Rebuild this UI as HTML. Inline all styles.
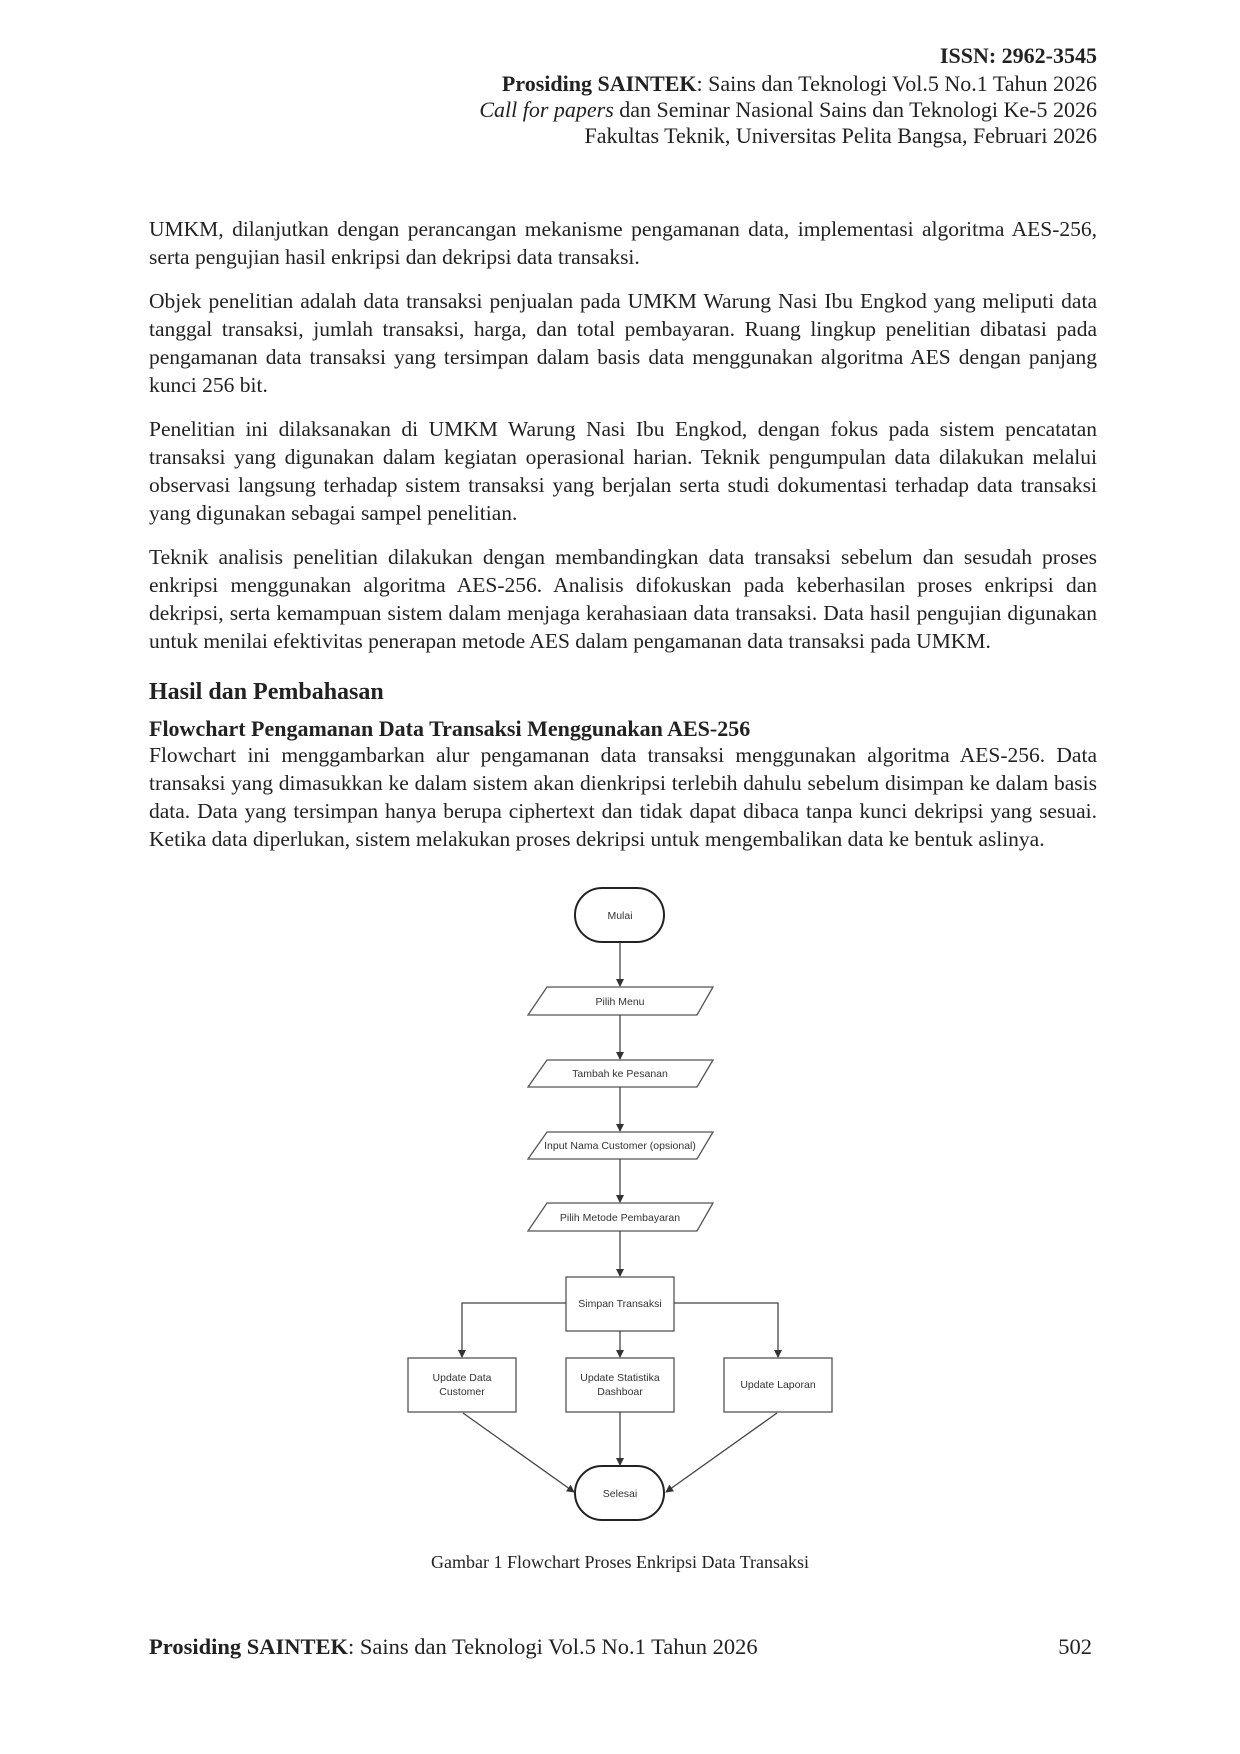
<!DOCTYPE html>
<html><head><meta charset="utf-8"><style>
body{margin:0;background:#fff;}
#p{position:relative;width:1240px;height:1754px;background:#fff;font-family:"Liberation Serif",serif;color:#222;overflow:hidden}
.r{position:absolute;right:143px;font-size:22px;text-align:right;white-space:nowrap;line-height:26px}
.l{position:absolute;left:149px;width:948px;font-size:21.5px;line-height:24px;white-space:nowrap;text-align:justify;text-align-last:justify}
.e{text-align-last:left}
.h{position:absolute;left:149px;font-weight:bold;white-space:nowrap}
svg text{font-family:"Liberation Sans",sans-serif;font-size:10.5px;fill:#333;text-anchor:middle}
</style></head><body><div id="p">
<div class="r" style="top:43px;font-weight:bold">ISSN: 2962-3545</div>
<div class="r" style="top:71px"><b>Prosiding SAINTEK</b>: Sains dan Teknologi Vol.5 No.1 Tahun 2026</div>
<div class="r" style="top:97px"><i>Call for papers</i> dan Seminar Nasional Sains dan Teknologi Ke-5 2026</div>
<div class="r" style="top:123px">Fakultas Teknik, Universitas Pelita Bangsa, Februari 2026</div>

<div class="l" style="top:217px">UMKM, dilanjutkan dengan perancangan mekanisme pengamanan data, implementasi algoritma AES-256,</div>
<div class="l e" style="top:245px">serta pengujian hasil enkripsi dan dekripsi data transaksi.</div>

<div class="l" style="top:289px">Objek penelitian adalah data transaksi penjualan pada UMKM Warung Nasi Ibu Engkod yang meliputi data</div>
<div class="l" style="top:317px">tanggal transaksi, jumlah transaksi, harga, dan total pembayaran. Ruang lingkup penelitian dibatasi pada</div>
<div class="l" style="top:345px">pengamanan data transaksi yang tersimpan dalam basis data menggunakan algoritma AES dengan panjang</div>
<div class="l e" style="top:373px">kunci 256 bit.</div>

<div class="l" style="top:417px">Penelitian ini dilaksanakan di UMKM Warung Nasi Ibu Engkod, dengan fokus pada sistem pencatatan</div>
<div class="l" style="top:445px">transaksi yang digunakan dalam kegiatan operasional harian. Teknik pengumpulan data dilakukan melalui</div>
<div class="l" style="top:473px">observasi langsung terhadap sistem transaksi yang berjalan serta studi dokumentasi terhadap data transaksi</div>
<div class="l e" style="top:501px">yang digunakan sebagai sampel penelitian.</div>

<div class="l" style="top:545px">Teknik analisis penelitian dilakukan dengan membandingkan data transaksi sebelum dan sesudah proses</div>
<div class="l" style="top:573px">enkripsi menggunakan algoritma AES-256. Analisis difokuskan pada keberhasilan proses enkripsi dan</div>
<div class="l" style="top:601px">dekripsi, serta kemampuan sistem dalam menjaga kerahasiaan data transaksi. Data hasil pengujian digunakan</div>
<div class="l e" style="top:629px">untuk menilai efektivitas penerapan metode AES dalam pengamanan data transaksi pada UMKM.</div>

<div class="h" style="top:679px;font-size:24px">Hasil dan Pembahasan</div>
<div class="h" style="top:716px;font-size:22px">Flowchart Pengamanan Data Transaksi Menggunakan AES-256</div>
<div class="l" style="top:743px">Flowchart ini menggambarkan alur pengamanan data transaksi menggunakan algoritma AES-256. Data</div>
<div class="l" style="top:771px">transaksi yang dimasukkan ke dalam sistem akan dienkripsi terlebih dahulu sebelum disimpan ke dalam basis</div>
<div class="l" style="top:799px">data. Data yang tersimpan hanya berupa ciphertext dan tidak dapat dibaca tanpa kunci dekripsi yang sesuai.</div>
<div class="l e" style="top:827px">Ketika data diperlukan, sistem melakukan proses dekripsi untuk mengembalikan data ke bentuk aslinya.</div>

<svg width="1240" height="1754" style="position:absolute;left:0;top:0">
<defs><marker id="a" markerWidth="8" markerHeight="8" refX="7" refY="4" orient="auto" markerUnits="userSpaceOnUse"><path d="M0,0 L8,4 L0,8 z" fill="#333"/></marker></defs>
<g fill="none" stroke="#555" stroke-width="1.3">
<rect x="575" y="888" width="89" height="54" rx="27" stroke="#222" stroke-width="2"/>
<polygon points="547,987 713,987 697,1015 528,1015"/>
<polygon points="547,1060 713,1060 697,1087 528,1087"/>
<polygon points="547,1132 713,1132 697,1159 528,1159"/>
<polygon points="547,1203 713,1203 697,1231 528,1231"/>
<rect x="566" y="1277" width="108" height="54"/>
<rect x="408" y="1358" width="108" height="54"/>
<rect x="566" y="1358" width="108" height="54"/>
<rect x="724" y="1358" width="108" height="54"/>
<rect x="575" y="1466" width="89" height="54" rx="27" stroke="#222" stroke-width="2"/>
<g stroke="#444" marker-end="url(#a)">
<line x1="620" y1="942" x2="620" y2="986"/>
<line x1="620" y1="1015" x2="620" y2="1059"/>
<line x1="620" y1="1087" x2="620" y2="1131"/>
<line x1="620" y1="1159" x2="620" y2="1202"/>
<line x1="620" y1="1231" x2="620" y2="1276"/>
<polyline points="566,1303 462,1303 462,1357"/>
<polyline points="674,1303 778,1303 778,1357"/>
<line x1="620" y1="1331" x2="620" y2="1357"/>
<line x1="620" y1="1412" x2="620" y2="1465"/>
<line x1="463" y1="1413" x2="574" y2="1492"/>
<line x1="777" y1="1413" x2="666" y2="1492"/>
</g></g>
<text x="620" y="919">Mulai</text>
<text x="620" y="1005">Pilih Menu</text>
<text x="620" y="1077">Tambah ke Pesanan</text>
<text x="620" y="1149">Input Nama Customer (opsional)</text>
<text x="620" y="1221">Pilih Metode Pembayaran</text>
<text x="620" y="1307">Simpan Transaksi</text>
<text x="462" y="1381">Update Data</text><text x="462" y="1395">Customer</text>
<text x="620" y="1381">Update Statistika</text><text x="620" y="1395">Dashboar</text>
<text x="778" y="1388">Update Laporan</text>
<text x="620" y="1497">Selesai</text>
</svg>
<div style="position:absolute;left:0;width:1240px;top:1552px;text-align:center;font-size:18px">Gambar 1 Flowchart Proses Enkripsi Data Transaksi</div>
<div style="position:absolute;left:149px;top:1634px;font-size:22.5px;white-space:nowrap"><b>Prosiding SAINTEK</b>: Sains dan Teknologi Vol.5 No.1 Tahun 2026</div>
<div style="position:absolute;right:148px;top:1634px;font-size:22.5px">502</div>
</div></body></html>
